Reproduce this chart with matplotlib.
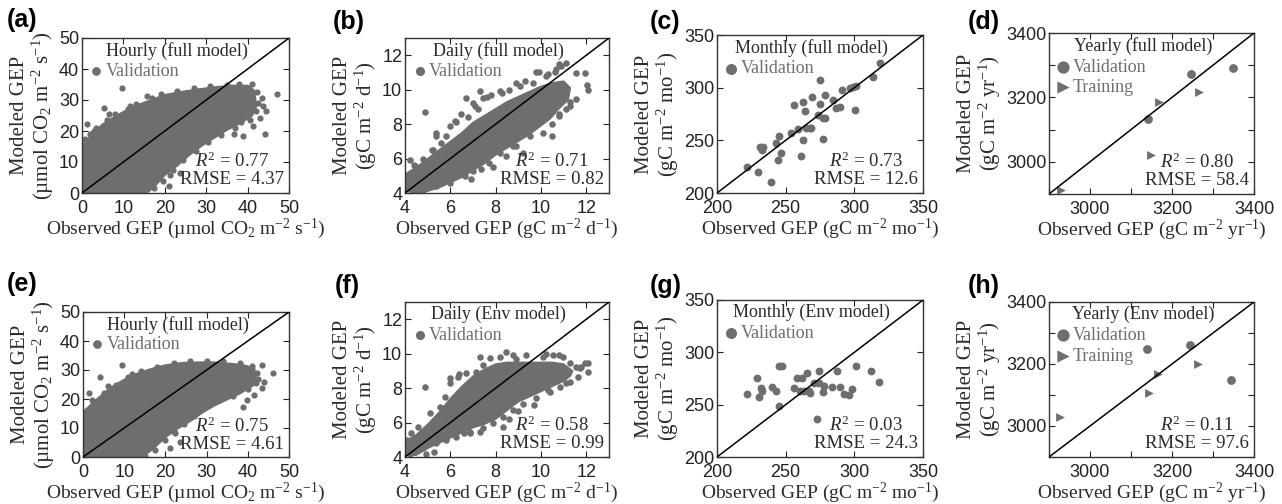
import matplotlib
matplotlib.use("Agg")
import matplotlib.pyplot as plt

plt.rcParams['font.family'] = 'Liberation Serif'
plt.rcParams['mathtext.fontset'] = 'custom'
plt.rcParams['mathtext.rm'] = 'Liberation Serif'
plt.rcParams['mathtext.it'] = 'Liberation Serif:italic'
plt.rcParams['mathtext.bf'] = 'Liberation Serif:bold'

GRAY = '#6e6e6e'
TXT = '#2b2b2b'

# ---- hourly: dense core read as an outline, plus the loose points around it ----
hour_full_core_x = [0, 0, 2, 5, 8, 10, 13, 16, 20, 24, 28, 32, 36, 40, 41.5, 42, 41, 38, 35, 32, 29, 26, 23, 20, 18, 16, 10, 5]
hour_full_core_y = [0, 15, 18, 22, 24.5, 26, 28, 29.5, 31.5, 32.5, 33.3, 34, 34.5, 34.5, 33, 28, 25, 22.5, 20.5, 18, 15.5, 12.5, 9, 6, 3, 0.5, 0, 0]
hour_full_x = [9.6, 5.2, 1.1, 0.7, 43.4, 47.0, 43.8, 43.0, 44.2, 41.4, 39.0, 36.6, 23.7, 21.3, 20.9, 11.6, 15.6, 3.0, 6.5, 2.0, 44.5, 38.5,
               1, 2, 3.5, 6, 8, 11, 13, 17, 19, 23, 27, 31, 35, 38, 41, 42.3, 42.5,
               42, 40.5, 37, 33.5, 30.5, 27.5, 24.5, 22, 19.5, 17.5, 13, 8]
hour_full_y = [34.0, 27.5, 22.2, 17.3, 30.8, 31.8, 28.0, 24.3, 18.9, 21.6, 18.4, 18.9, 6.5, 5.9, 2.2, 28.0, 31.3, 20.0, 25.5, 12.0, 26.5, 23.0,
               16.5, 19, 21, 23.5, 25.5, 27, 28.8, 30.5, 32, 33, 34, 34.6, 35, 35.2, 35.3, 32.5, 29,
               26.5, 23.5, 21, 18.8, 16.5, 13.5, 10.5, 7.5, 4, 1.5, 0.5, 0.3]

hour_env_core_x = [0, 0, 2, 4, 7, 10, 13, 16, 20, 24, 28, 32, 36, 39, 41.5, 42, 41.5, 38, 35, 32, 29, 26, 23, 20, 17, 14.5, 10, 5]
hour_env_core_y = [0, 15, 18, 20.5, 24, 26.5, 28.5, 30, 31.5, 32.3, 32.5, 32.5, 32, 31.5, 30.5, 26.5, 25, 22, 20, 18, 15.5, 12.5, 10, 7, 3, 0.3, 0, 0]
hour_env_x = [9.4, 4.1, 2.1, 0.9, 43.4, 46.2, 43.4, 39.7, 38.9, 23.5, 21.1, 22.3, 1.5, 6.0, 44.0, 41.5, 12.0,
              1, 3, 5, 8, 11, 14, 18, 22, 26, 30, 34, 38, 41, 42.3, 42.5,
              42, 40, 36.5, 33, 30, 27, 24.5, 22, 20, 17.5, 15, 10]
hour_env_y = [31.7, 27.5, 19.7, 16.2, 31.7, 28.9, 23.7, 19.7, 17.4, 5.3, 3.0, 8.2, 22.0, 24.5, 26.0, 21.5, 28.5,
              16, 19, 22, 25, 27.5, 29.5, 31, 32.5, 33.2, 33.2, 33, 32.5, 31.5, 29, 27,
              25.5, 23.5, 21, 19.5, 17.5, 14, 11.5, 9, 6, 2.5, 0.5, 0.3]

# ---- daily ----
day_full_core_x = [4, 4, 4.5, 5, 5.5, 6, 6.5, 7, 7.5, 8, 8.5, 9, 9.5, 10, 10.5, 11, 11.3,
                   11.2, 10.8, 10.4, 10, 9.5, 9, 8.5, 8, 7.5, 7, 6.5, 6, 5.5, 5, 4.5]
day_full_core_y = [4.1, 5.1, 5.5, 6.0, 6.5, 7.0, 7.5, 8.1, 8.5, 8.9, 9.3, 9.6, 9.9, 10.2, 10.4, 10.5, 10.1,
                   9.4, 8.9, 8.3, 7.9, 7.4, 7.0, 6.6, 6.2, 5.7, 5.3, 4.9, 4.6, 4.3, 4.1, 4.0]
day_full_x = [4.87, 4.06, 4.1, 4.4, 11.12, 11.56, 11.93, 12.07, 12.05, 11.56, 11.26, 10.8, 10.5, 8.18,
              7.29, 6.7, 7.07, 7.6, 8.47, 8.76, 7.37, 6.56, 5.38, 6.2, 4.8, 9.8, 10.3, 9.2, 5.9, 6.9,
              10.9, 8.9, 7.9, 4.6, 5.2,
              4.06, 4.43, 4.8, 5.24, 5.38, 5.82, 6.26, 6.49, 7.0, 7.44, 7.8, 8.6, 9.06, 9.65, 10.24, 10.68, 10.8,
              4.8, 5.38, 5.97, 6.63, 7.0, 7.7, 8.17, 8.9, 9.5, 10.1, 10.5, 10.8, 11.1, 11.3,
              5.6, 6.0, 6.8, 7.2, 8.3, 9.3, 9.9, 10.6, 5.0, 5.7, 6.4, 7.6, 8.6, 9.2, 10.0, 4.3, 4.2]
day_full_y = [8.70, 4.6, 4.3, 5.6, 11.56, 10.98, 10.98, 10.0, 10.3, 9.43, 9.05, 8.6, 7.3, 9.92,
              9.92, 9.53, 9.05, 9.6, 6.15, 6.73, 5.37, 5.18, 7.3, 8.2, 4.3, 11.0, 10.9, 6.3, 5.0, 4.8,
              11.4, 10.4, 5.5, 4.7, 6.5,
              4.8, 5.57, 5.95, 6.5, 7.5, 7.3, 8.1, 8.56, 9.24, 9.5, 9.7, 10.0, 10.2, 10.4, 10.8, 11.2, 11.5,
              4.2, 4.4, 4.6, 5.0, 5.28, 5.76, 6.34, 6.73, 7.3, 7.5, 8.0, 8.47, 8.86, 9.3,
              6.9, 7.9, 8.4, 8.9, 9.8, 10.5, 11.0, 11.0, 5.0, 5.0, 5.6, 6.5, 7.0, 7.6, 8.2, 4.4, 5.9]

day_env_core_x = [4, 4, 4.5, 5, 5.5, 6, 6.5, 7, 7.5, 8, 8.5, 9, 9.5, 10, 10.5, 11, 11.4,
                  11.3, 11, 10.5, 10, 9.5, 9, 8.5, 8, 7.5, 7, 6.5, 6, 5.5, 5, 4.5]
day_env_core_y = [4.1, 4.9, 5.3, 5.9, 6.6, 7.4, 8.1, 8.7, 9.1, 9.4, 9.5, 9.5, 9.5, 9.5, 9.5, 9.4, 9.0,
                  8.7, 8.4, 8.1, 7.8, 7.5, 7.2, 6.7, 6.2, 5.9, 5.7, 5.4, 5.1, 4.8, 4.5, 4.1]
day_env_x = [4.87, 4.09, 4.09, 4.94, 8.47, 11.93, 12.07, 12.07, 11.56, 11.75, 11.1, 10.3, 8.32, 8.6,
             7.29, 6.85, 6.6, 6.0, 6.4, 7.3, 10.2, 10.8, 9.7, 5.3, 4.3, 9.0,
             4.28, 4.57, 5.09, 5.53, 5.75, 5.97, 6.34, 6.7, 7.15, 7.44, 7.73, 8.18, 8.76, 9.35, 10.09,
             10.53, 10.97, 11.26, 11.7,
             4.2, 4.8, 5.38, 5.82, 6.26, 6.85, 7.44, 7.88, 8.32, 8.76, 9.2, 9.8, 10.38, 10.82, 11.26, 11.63,
             5.2, 6.1, 7.0, 7.8, 8.9, 9.9, 10.8, 6.6, 7.6, 8.5, 9.5]
day_env_y = [8.04, 5.0, 4.6, 4.17, 10.11, 9.43, 8.95, 9.43, 9.24, 9.2, 8.27, 7.89, 5.76, 6.2,
             5.47, 5.37, 5.37, 8.6, 8.8, 9.8, 10.0, 9.9, 7.0, 4.3, 4.5, 6.7,
             5.37, 5.76, 6.53, 6.92, 7.5, 8.27, 8.66, 8.86, 8.95, 9.34, 9.72, 9.82, 9.92, 9.92, 9.82,
             9.92, 9.82, 9.43, 9.14,
             4.2, 4.5, 4.8, 5.0, 5.18, 5.47, 5.66, 5.95, 6.34, 6.73, 7.1, 7.4, 7.8, 8.08, 8.37, 8.66,
             5.6, 6.4, 7.5, 8.4, 9.7, 9.3, 9.1, 5.9, 6.3, 7.8, 8.8]

# ---- monthly ----
mon_full_obs = [221.8, 229.9, 231.1, 232.5, 233.5, 239.6, 243.2, 245.1, 244.4, 246.8, 255.8, 254.1,
                260.9, 262.6, 262.6, 264.3, 265.0, 267.5, 268.7, 269.4, 274.8, 274.8, 273.5, 277.2,
                278.9, 277.2, 278.4, 284.5, 286.9, 289.3, 291.3, 296.6, 299.0, 301.5, 300.2, 313.6,
                318.4, 259.0]
mon_full_mod = [224.6, 220.2, 243.6, 241.0, 244.0, 210.1, 247.4, 253.7, 230.9, 237.9, 283.7, 257.4,
                234.7, 286.8, 250.5, 277.4, 261.6, 261.6, 261.6, 291.6, 307.4, 284.7, 274.2, 271.1,
                271.1, 251.5, 293.2, 288.4, 280.5, 281.5, 297.9, 299.5, 300.4, 302.0, 278.9, 309.9,
                323.8, 260.5]

mon_env_obs = [221.5, 228.9, 230.6, 232.1, 232.5, 239.9, 243.1, 244.8, 245.5, 247.3, 255.8, 258.3,
               261.9, 265.6, 260.2, 263.1, 266.8, 268.0, 274.1, 274.1, 277.8, 277.3, 283.9, 287.1,
               289.5, 292.5, 296.2, 298.6, 301.1, 312.1, 318.2, 272.9, 270.5]
mon_env_mod = [260.4, 275.3, 257.8, 265.8, 262.6, 266.7, 262.6, 248.9, 287.1, 287.1, 265.8, 275.3,
               275.3, 280.7, 262.6, 262.6, 262.6, 261.0, 282.1, 270.3, 267.7, 262.0, 266.7, 282.6,
               266.7, 260.4, 259.4, 264.8, 287.1, 281.7, 271.2, 236.2, 270.5]

# ---- yearly ----
yr_full_val_obs = [3141, 3246, 3348]
yr_full_val_mod = [3134, 3274, 3291]
yr_full_tr_obs = [3168, 3266, 2929, 3149]
yr_full_tr_mod = [3186, 3216, 2911, 3020]

yr_env_val_obs = [3138, 3244, 3345]
yr_env_val_mod = [3248, 3261, 3148]
yr_env_tr_obs = [2927, 3166, 3144, 3264]
yr_env_tr_mod = [3030, 3167, 3107, 3199]

stats = {
    'a': ('0.77', '4.37'), 'b': ('0.71', '0.82'), 'c': ('0.73', '12.6'), 'd': ('0.80', '58.4'),
    'e': ('0.75', '4.61'), 'f': ('0.58', '0.99'), 'g': ('0.03', '24.3'), 'h': ('0.11', '97.6'),
}
titles = {
    'a': 'Hourly (full model)', 'b': 'Daily (full model)', 'c': 'Monthly (full model)',
    'd': 'Yearly (full model)', 'e': 'Hourly (full model)', 'f': 'Daily (Env model)',
    'g': 'Monthly (Env model)', 'h': 'Yearly (Env model)',
}
units = {
    'hour': r'(µmol CO$_2$ m$^{-2}$ s$^{-1}$)',
    'day': r'(gC m$^{-2}$ d$^{-1}$)',
    'mon': r'(gC m$^{-2}$ mo$^{-1}$)',
    'yr': r'(gC m$^{-2}$ yr$^{-1}$)',
}

W, H = 1282, 504
fig = plt.figure(figsize=(W / 100, H / 100), dpi=100)


def make_ax(l, r, t, b):
    return fig.add_axes([l / W, 1 - b / H, (r - l) / W, (b - t) / H])


boxes = {
    'a': (82, 289, 38, 193), 'b': (405, 609, 38, 193), 'c': (717, 923, 35, 193), 'd': (1049, 1254, 33, 194),
    'e': (83, 289, 312, 457), 'f': (405, 609, 302, 457), 'g': (717, 923, 300, 457), 'h': (1049, 1254, 302, 457),
}
label_pos = {'a': (7, 8), 'b': (333, 10), 'c': (650, 10), 'd': (968, 10),
             'e': (7, 272), 'f': (335, 274), 'g': (650, 274), 'h': (968, 274)}


def style(ax, key, lim, ticks, ticklabels, kind):
    ax.set_xlim(lim)
    ax.set_ylim(lim)
    ax.plot(lim, lim, color='black', lw=1.1, zorder=5)
    ax.set_xticks(ticks)
    ax.set_yticks(ticks)
    ax.set_xticklabels(ticklabels, family='Liberation Sans', fontsize=13)
    ax.set_yticklabels(ticklabels, family='Liberation Sans', fontsize=13)
    ax.tick_params(direction='in', top=True, right=True, length=4, width=0.8, colors='#222222')
    ax.tick_params(axis='x', pad=5)
    ax.tick_params(axis='y', pad=2)
    for s in ax.spines.values():
        s.set_linewidth(1.0)
        s.set_color('#333333')
    ax.set_xlabel('Observed GEP ' + units[kind], fontsize=14, color=TXT, labelpad=0)
    ax.set_ylabel('Modeled GEP\n' + units[kind], fontsize=15, color=TXT, labelpad=2, linespacing=1.05)
    ax.text(0.46, 0.975, titles[key], transform=ax.transAxes, ha='center', va='top',
            fontsize=13, color=TXT, zorder=6)
    r2, rmse = stats[key]
    ax.text(0.975, 0.03, '$R^2$ = ' + r2 + '\nRMSE = ' + rmse, transform=ax.transAxes,
            ha='right', va='bottom', multialignment='center', fontsize=13.5, color=TXT,
            linespacing=1.0, zorder=6)
    lx, ly = label_pos[key]
    fig.text(lx / W, 1 - ly / H, '(' + key + ')', ha='left', va='top', fontsize=18,
             family='Liberation Sans', weight='bold')


def legend(ax, handles, labels, y=0.92):
    ax.legend(handles, labels, loc='upper left', bbox_to_anchor=(-0.035, y), frameon=False,
              handletextpad=0.0, handlelength=1.0, borderaxespad=0.3, labelspacing=0.2,
              fontsize=13, labelcolor=GRAY, markerscale=1.4)


hour_ticks = [0, 10, 20, 30, 40, 50]
day_ticks = [4, 6, 8, 10, 12]
mon_ticks = [200, 250, 300, 350]
yr_ticks = [2900, 3000, 3100, 3200, 3300, 3400]
yr_labels = ['', '3000', '', '3200', '', '3400']

# hourly
for key, cx, cy, px, py in [('a', hour_full_core_x, hour_full_core_y, hour_full_x, hour_full_y),
                            ('e', hour_env_core_x, hour_env_core_y, hour_env_x, hour_env_y)]:
    ax = make_ax(*boxes[key])
    ax.fill(cx, cy, color=GRAY, lw=2, joinstyle='round', zorder=2)
    sc = ax.scatter(px, py, s=20, color=GRAY, lw=0, zorder=2)
    style(ax, key, (0, 50), hour_ticks, [str(t) for t in hour_ticks], 'hour')
    legend(ax, [sc], ['Validation'])

# daily
for key, cx, cy, px, py in [('b', day_full_core_x, day_full_core_y, day_full_x, day_full_y),
                            ('f', day_env_core_x, day_env_core_y, day_env_x, day_env_y)]:
    ax = make_ax(*boxes[key])
    ax.fill(cx, cy, color=GRAY, lw=1, joinstyle='round', zorder=2)
    sc = ax.scatter(px, py, s=22, color=GRAY, lw=0, zorder=2)
    style(ax, key, (4, 13), day_ticks, [str(t) for t in day_ticks], 'day')
    legend(ax, [sc], ['Validation'])

# monthly
for key, ox, oy in [('c', mon_full_obs, mon_full_mod), ('g', mon_env_obs, mon_env_mod)]:
    ax = make_ax(*boxes[key])
    sc = ax.scatter(ox, oy, s=32, color=GRAY, lw=0, zorder=2)
    style(ax, key, (200, 350), mon_ticks, [str(t) for t in mon_ticks], 'mon')
    legend(ax, [sc], ['Validation'])

# yearly
for key, vo, vm, to, tm in [('d', yr_full_val_obs, yr_full_val_mod, yr_full_tr_obs, yr_full_tr_mod),
                            ('h', yr_env_val_obs, yr_env_val_mod, yr_env_tr_obs, yr_env_tr_mod)]:
    ax = make_ax(*boxes[key])
    sv = ax.scatter(vo, vm, s=40, color=GRAY, lw=0, marker='o', zorder=2)
    st = ax.scatter(to, tm, s=40, color=GRAY, lw=0, marker='>', zorder=2)
    style(ax, key, (2900, 3400), yr_ticks, yr_labels, 'yr')
    legend(ax, [sv, st], ['Validation', 'Training'])

fig.savefig('out.png', dpi=100)
